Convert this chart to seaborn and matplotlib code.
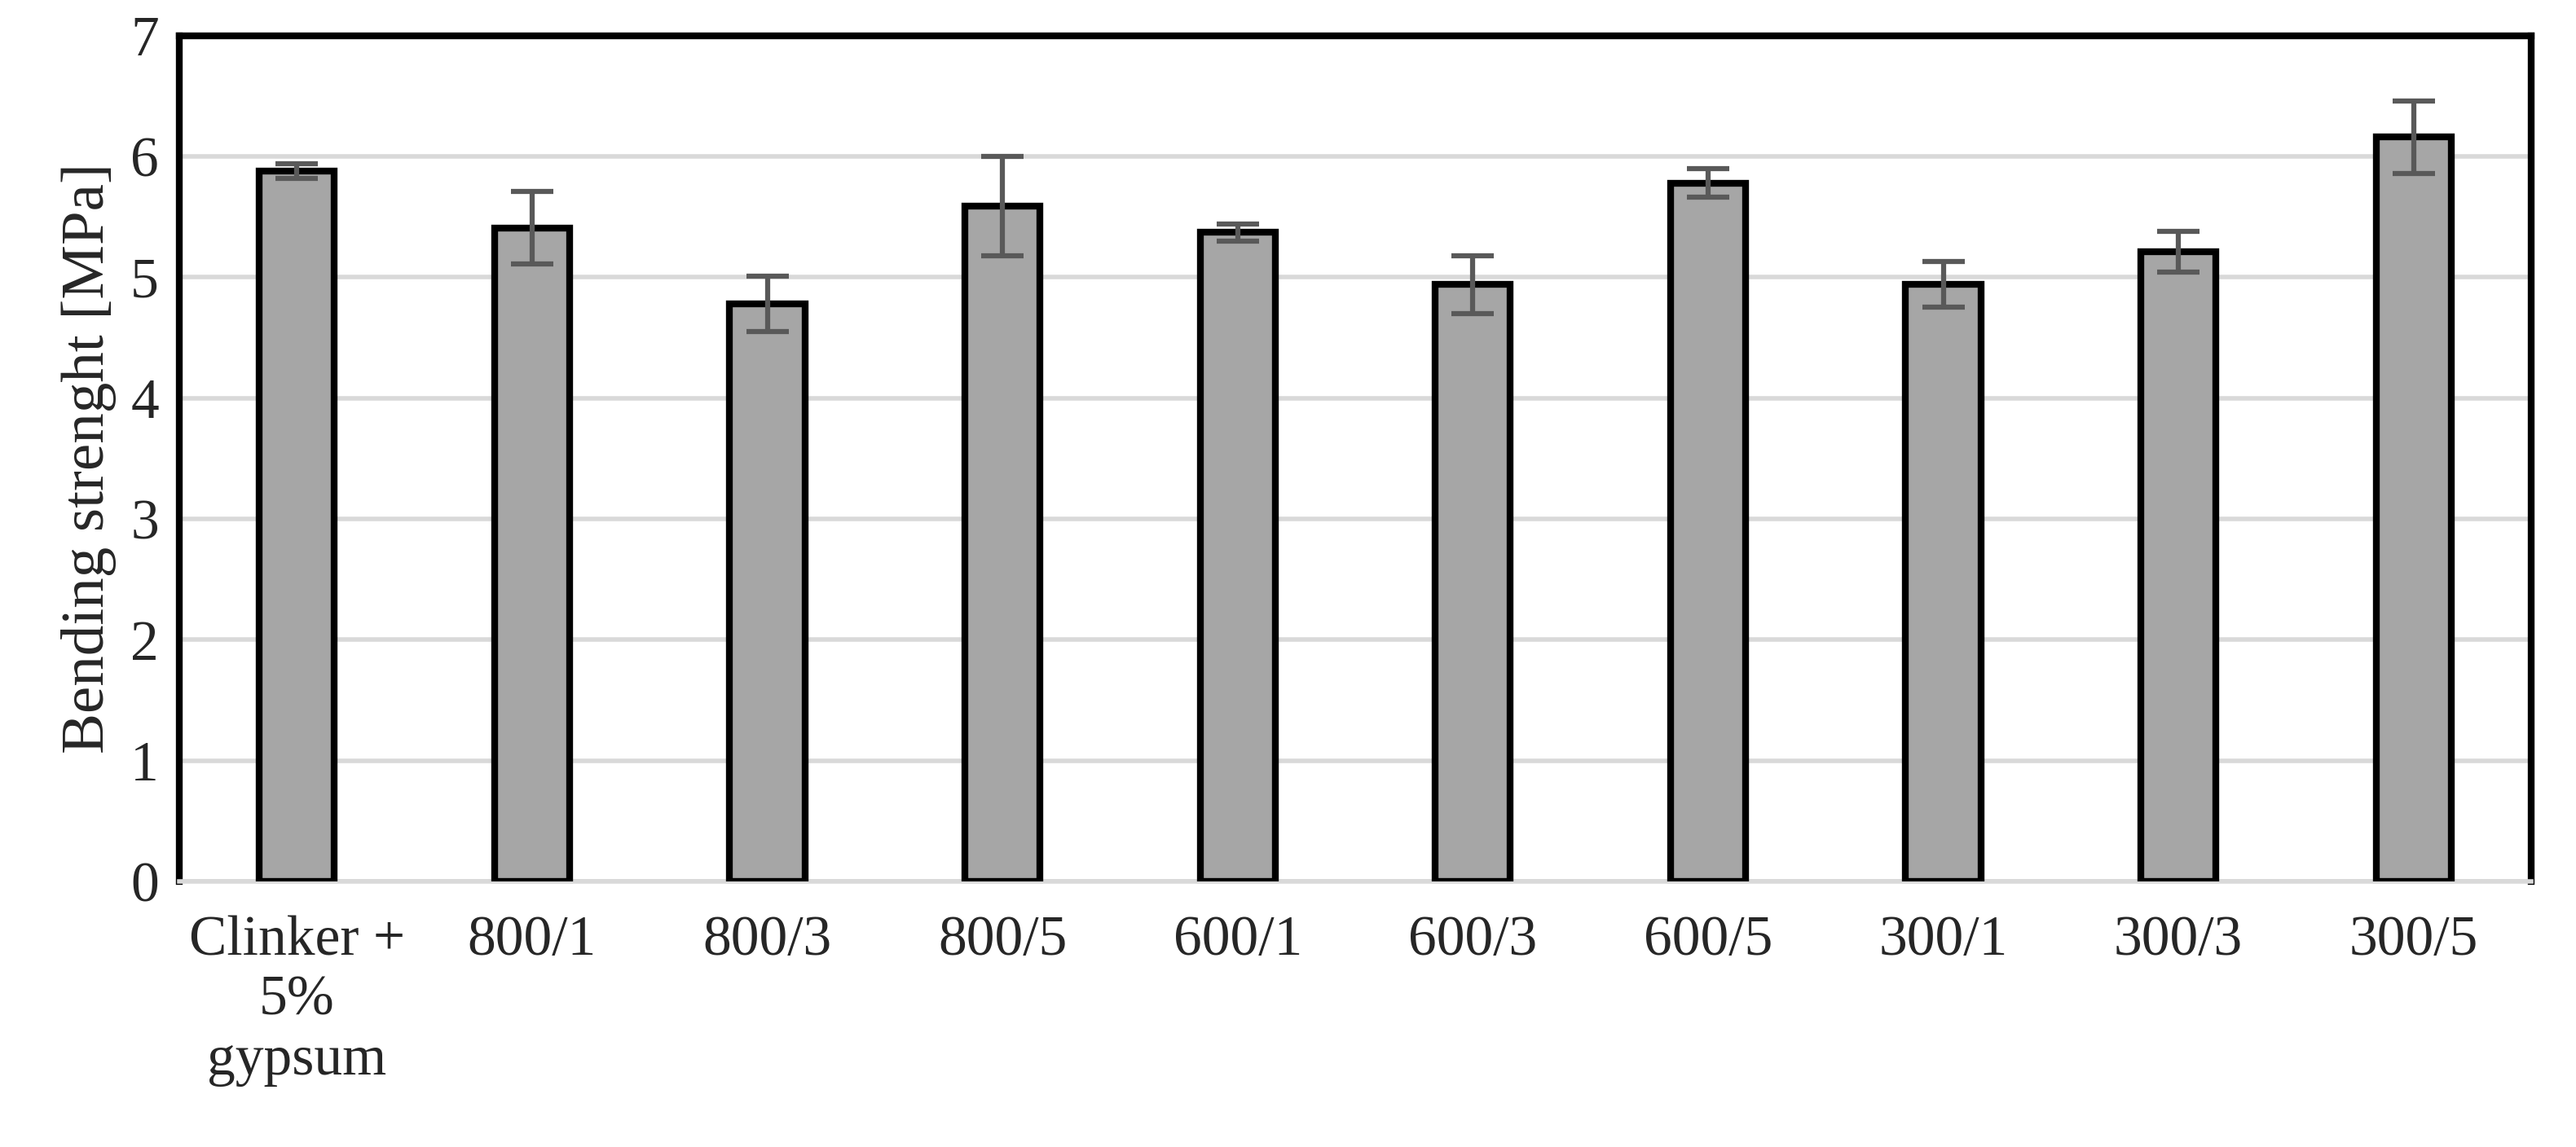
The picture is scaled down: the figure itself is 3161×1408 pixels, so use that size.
import matplotlib
matplotlib.use("Agg")
import matplotlib.pyplot as plt
import seaborn as sns
import pandas as pd

categories = ["Clinker +\n5%\ngypsum", "800/1", "800/3", "800/5", "600/1", "600/3", "600/5", "300/1", "300/3", "300/5"]
values = [5.88, 5.41, 4.78, 5.59, 5.37, 4.94, 5.78, 4.94, 5.21, 6.16]
errors = [0.06, 0.30, 0.23, 0.41, 0.07, 0.24, 0.12, 0.19, 0.17, 0.30]

sns.set_theme(style="white")
plt.rcParams['font.family'] = ['Liberation Serif', 'DejaVu Serif']

df = pd.DataFrame({"cat": categories, "val": values})
fig = plt.figure(figsize=(31.61, 14.08), dpi=100)
ax = fig.add_axes([0.0696, 0.2315, 0.913, 0.7375])
sns.barplot(data=df, x="cat", y="val", color="#a6a6a6", saturation=1, width=0.32,
            edgecolor="black", linewidth=6, ax=ax, zorder=3)
ax.errorbar(range(len(values)), values, yerr=errors, fmt="none", ecolor="#595959",
            elinewidth=4.5, capsize=19, capthick=4.5, zorder=4)
ax.set_ylim(0, 7)
ax.set_yticks(range(8))
ax.yaxis.grid(True, color="#d9d9d9", linewidth=4, zorder=0)
ax.set_axisbelow(True)
for s in ["top", "left", "right"]:
    ax.spines[s].set_color("black")
    ax.spines[s].set_linewidth(6)
ax.spines["bottom"].set_color("#d9d9d9")
ax.spines["bottom"].set_linewidth(4)
ax.set_xlabel("")
ax.set_ylabel("Bending strenght [MPa]", fontsize=54, labelpad=12)
ax.tick_params(axis="y", labelsize=50, length=0, pad=18)
ax.tick_params(axis="x", labelsize=50, length=0, pad=30)
ax.set_xticks(range(len(categories)))
ax.set_xticklabels(categories, linespacing=1.2, va="top")
ax.set_xlim(-0.5, len(categories) - 0.5)
fig.savefig("out.png", dpi=100)
